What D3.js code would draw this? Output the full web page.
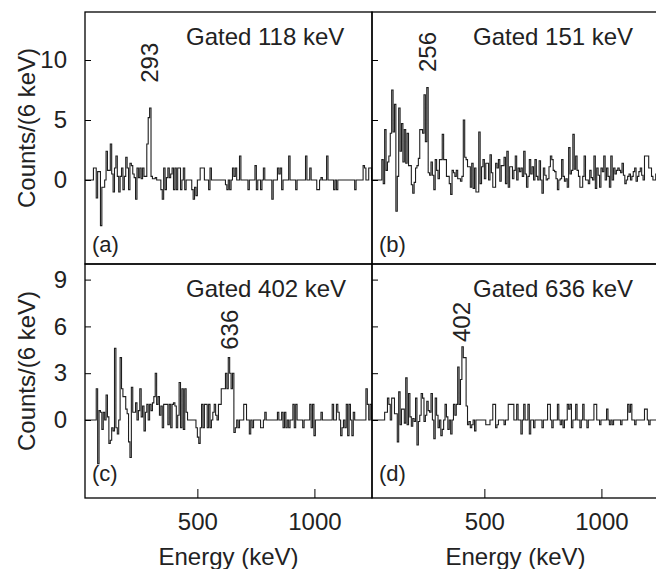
<!DOCTYPE html>
<html>
<head>
<meta charset="utf-8">
<script src="https://cdn.jsdelivr.net/npm/d3@7"></script>
<style>
  body { margin: 0; background: #fff; }
  svg { display: block; font-family: "Liberation Sans", Arial, Helvetica, sans-serif; }
</style>
</head>
<body>
<div id="chart"></div>
<script>
// gamma-gamma coincidence spectra, 6 keV bins starting at 20 keV
var binStart = 20;
var binWidth = 6;

var gated118 = [
    0, 0, 0, 0, 0, 0, 1, 1, -1.5, 0.7,
    0.7, -3.8, -0.6, -0.6, 0, 2.4, 0.8, 0.8, 3, 0.5,
    -1, 1, 2, 0.3, -1, 0.3, 1, -0.8, 0.3, 1.9,
    1, -0.8, 1.4, 1.2, 0.5, 0.2, -1.6, 1, 0.2, 1,
    0.1, 1, 0.3, 0.3, 3, 5.2, 6, 0.3, 0.1, 0.1,
    0.2, 0, 0, 0, -0.8, -1.6, 1, -0.8, 0.2, 1,
    0.2, 0.5, 1, -0.8, 1, -0.8, 1, 1, -0.8, 0,
    1, -0.8, 0, 0, 0, 0, -0.8, -1.6, -0.6, -1.3,
    0, 0, 1, 1, 1, 0, 0, 0, -0.8, 1,
    0, 0, 0, 0, 0, 0, 0, 0, 0, 0,
    -0.4, -0.8, 0, -0.8, 0, 1, 0.3, 1, 0, 0,
    2, 0, 0, 0, 0, 0, -0.8, 0, 0, 0,
    0, 1.2, -0.8, 0, 0, -0.8, 0, 1, 0, 0,
    0, 0, 0, -1.6, 0, 0, 0, 1, 0.5, 1,
    -0.8, 0, 0, 0, 0, 2, 0, 0, 0, 0,
    -0.8, 0, 0, 0, 0, 0, 0, 2, 0, 0,
    1, 0, 0, 0, 0, -0.8, -0.8, 0, 0.2, 0,
    0, 0, 2, 0, 0, 0, 0, -0.8, 0, -0.8,
    0, 0, 0, 0, 0, 0, 0, 0, 0, 0,
    0, 0, -0.8, 0, 0, 0, 0, 0, 1.2, 1,
    0, 0, 1, 1, 0
];

var gated151 = [
    0, 0, 0, 0, 0, 0, 0, 1.7, -0.3, 4.2,
    0.8, 1.5, 2, 3.9, 7.5, 4, 6.3, -2.6, 0.3, 6,
    2.4, 4.7, 1.5, 4.2, 1.4, 3.9, 1.2, 1.2, -0.4, -1.1,
    -0.2, 1, 1.2, 1.8, 4.2, 4.2, 3.9, 7.1, 3.2, 7.7,
    0.6, 0.4, 1.5, 0.4, -0.8, 1.7, 0.8, 0.1, 1.7, 1.7,
    3.8, 1.7, 1.7, 0.3, 0.3, -0.3, -1.2, 0.8, 0.6, 0.3,
    0.8, 0.1, 0.1, -0.1, 0.3, 5, 1.9, 1.7, 1.1, 1.1,
    -0.6, 1.4, -0.7, 1, -1, -1, 4, -0.3, 1.1, 1.7,
    0.1, 1.4, 1.4, 0, 2.1, 0.6, -0.6, -0.6, 1.4, 1,
    1.7, -0.1, 1.2, 1.2, 1.9, -0.3, 2.4, -0.6, 1.1, 1.1,
    0.1, 0.8, 2, 0, 1, 0.7, 1, 0.3, 2.4, 0.5,
    -0.6, 0.3, 1.7, 0.5, 1.1, 0, 1.7, 0.3, 0, 1.6,
    0, -1.1, 1, 0.4, 0, 0.1, 1.1, 2, 1.7, 0.8,
    0.7, 0.1, -0.8, 0, 0.1, 1.7, 0.3, -0.1, 0.1, -0.6,
    2.7, 0.5, 0.8, 3.8, 0.9, 2, 0.8, 0.3, -0.6, -0.6,
    0.3, 2, 0, 0, -0.3, 0.8, 0.2, 0, 2, -0.7,
    1, 0.4, -0.6, 1, 0.7, 2, 0, 1, 0.3, -0.6,
    2, 0, 1, 0.5, 0.8, 1, 0.8, 0.6, 1.4, 0.4,
    -0.3, 0, 0.3, 0.5, 0, 0.3, 0.7, 1, -0.1, 0.3,
    0.7, 1, 0.4, 0, 2, 2, 2, 1, 1, 0.3,
    0, 0, 0.5, 0, 0
];

var gated402 = [
    0, 0, 0, 0, 0, 0, 0, 0, 2, -2.8,
    0.6, 0.5, -0.6, 0.5, 0, 1.6, 0.2, -1.5, -1.3, -0.5,
    -0.7, 4.6, -0.5, -0.9, 0, 4, 2, 1.5, 1.5, 0.7,
    0.4, -1.4, -2.4, 2.1, 0.5, 0.5, 1.1, 0, 0.6, 2,
    0.2, 0.9, -0.7, 0.5, 1, 0, 1, 0.6, 1.1, 1.5,
    3, 1, 1.5, 0.3, 0.9, -0.5, 1, 1, 1, -0.3,
    1, -0.5, 1, 1.1, 0.9, -0.5, 0.3, 2.4, -0.5, 2,
    -0.6, 2, 0.5, 0, 0, 0, 0, 0, 0, -0.5,
    -1.1, -1.5, -0.5, 1, -0.5, 1, 1, -0.5, 1, -0.5,
    0, 0.5, 1, 0.3, 0, 1, 1, 2, 2, 2,
    3, 2, 4, 3, 2, 3, -0.8, -0.5, 0, -0.5,
    0, 0, 0, 1, 1, 0, 0, -0.9, 0, -0.5,
    0, 0, 0, 0, 0, -0.5, -0.5, 0, 0.5, 0,
    0, 0, 0, 0, 0, 0, 0, 0.5, 0, 0,
    0.5, -0.5, 0.5, -0.5, 0, -0.5, 0, 0, 1, -0.5,
    1, 0, 0, 0, 0, -0.5, 0, 0, 0, 0,
    1, -0.5, 1, -1, 0, 0, 0, 0, 0.5, 0,
    0, 0, 0, 0, 0, 0, 1, 0, 0, 1,
    0.5, 0, -1, -0.5, 0, -0.5, 1, -1, 1, 0,
    -1, 0.5, 0, 0, 0, 0, 0, 0, 0, 0,
    2, 1, 0, 1, 0
];

var gated636 = [
    0, 0, 0, 0, 0, 0, 0, 0, 0, 0.5,
    0.5, 1.4, 1, 0, 1.4, 1.4, 0.4, 0.4, -1.4, 1.8,
    -0.3, 0.7, 0.7, -0.2, 2.7, -0.3, 1.7, 0.2, -0.4, 0.1,
    -0.1, 1.4, -1.6, -0.1, 0.3, 1.7, 1.4, -0.1, 0.3, 1.2,
    0.6, 0.5, 1.7, 0, -1.2, 1.4, 0.3, -0.5, 0, -1,
    -0.6, 0, 1, 0.2, -0.6, 0, -0.9, 0, 1, 0.3,
    1, 3.4, 1, 2.6, 4.7, 4, 4, 0.9, -0.3, -0.1,
    -0.5, -0.3, 0, -0.7, 0, 0, 0, 0, 0, 0,
    0, -0.3, -0.3, -0.3, 0, 0, 1, 1, -0.5, -0.3,
    0, 0, 0, 0, -0.3, 0, 0, 1, 1, 1,
    1, 0, 0, 1, 0, 0, -0.9, 0, 1, 0,
    0, 1, -0.9, 0, 0, -0.5, 0, 0, 0, 0,
    0, -0.5, 0, 0, 0, 1, 1, 0, -0.5, 0,
    0, 0, 1, 0, -0.3, 0, -0.5, 0, 0, 1,
    0.7, 1, -0.5, 0, 0, 1, 0, 0, -0.5, 0,
    1, 0, 0, -0.5, 0, 0, 0, 0, 1, 1,
    0, 0, -0.3, 0, 0, 0, 0, 0.7, 0, -0.3,
    0, -0.3, 0, 0, 0, 0, 0, -0.3, 0, 0,
    0, 0, 1, 0.5, 1, 0, 0, -0.3, 0, 0,
    0, 0, 0, 0, 0.7, 0.7, 0, -0.3, 0, 0,
    0, 0, 0, 0, 0
];

var gateLabels = ["Gated 118 keV", "Gated 151 keV", "Gated 402 keV", "Gated 636 keV"];
var panelTags = ["(a)", "(b)", "(c)", "(d)"];
var peakEnergies = [293, 256, 636, 402];
var peakLabelCounts = [8.1, 9, 4.5, 5];

var energyDomain = [20, 1246];
var energyTicks = [500, 1000];
var topDomain = [-7, 14];
var topTicks = [0, 5, 10];
var bottomDomain = [-5, 10];
var bottomTicks = [0, 3, 6, 9];

var spectra = [gated118, gated151, gated402, gated636];

var width = 656;
var height = 569;
var left = 85;
var panelW = 287;
var rows = [
    {top: 12, h: 252, domain: topDomain, ticks: topTicks},
    {top: 264, h: 234, domain: bottomDomain, ticks: bottomTicks}
];
var fontSize = 24;
var ink = "#222";

var svg = d3.select("#chart")
    .append("svg")
    .attr("width", width)
    .attr("height", height);

var x = d3.scaleLinear()
    .domain(energyDomain)
    .range([0, panelW]);

var line = d3.line()
    .curve(d3.curveStepAfter);

function styleAxis(a) {
    a.select(".domain").remove();
    a.selectAll("line").attr("stroke", "#000");
    a.selectAll("text")
        .attr("fill", ink)
        .style("font-size", fontSize + "px")
        .style("font-family", "Liberation Sans, Arial, sans-serif");
}

spectra.forEach(function(counts, i) {
    var col = i % 2;
    var row = rows[Math.floor(i / 2)];
    var x0 = left + col * panelW;

    var y = d3.scaleLinear()
        .domain(row.domain)
        .range([row.h, 0]);

    var g = svg.append("g")
        .attr("transform", `translate(${x0},${row.top})`);

    g.append("clipPath")
        .attr("id", "clip" + i)
        .append("rect")
        .attr("width", panelW)
        .attr("height", row.h);

    // histogram as steps, closing the last bin
    var pts = counts.map((c, k) => [x(binStart + k * binWidth), y(c)]);
    pts.push([x(binStart + counts.length * binWidth), y(counts[counts.length - 1])]);

    g.append("path")
        .attr("clip-path", `url(#clip${i})`)
        .attr("d", line(pts))
        .attr("fill", "none")
        .attr("stroke", "#1e1e1e")
        .attr("stroke-width", 1.1);

    // y ticks point inward, only the left column gets numbers
    var ya = g.append("g").call(d3.axisLeft(y)
        .tickValues(row.ticks)
        .tickSize(-6)
        .tickPadding(18)
        .tickFormat(col === 0 ? d3.format("d") : ""));
    styleAxis(ya);

    if (i >= 2) {
        var xa = g.append("g")
            .attr("transform", `translate(0,${row.h})`)
            .call(d3.axisBottom(x)
                .tickValues(energyTicks)
                .tickSize(-9)
                .tickPadding(15)
                .tickFormat(d3.format("d")));
        styleAxis(xa);

        g.append("text")
            .attr("x", panelW / 2)
            .attr("y", row.h + 67)
            .attr("text-anchor", "middle")
            .attr("fill", ink)
            .style("font-size", fontSize + "px")
            .text("Energy (keV)");
    }

    // frame
    g.append("rect")
        .attr("width", panelW)
        .attr("height", row.h)
        .attr("fill", "none")
        .attr("stroke", "#000")
        .attr("stroke-width", 1.3);

    g.append("text")
        .attr("x", 101)
        .attr("y", 33)
        .attr("fill", ink)
        .style("font-size", fontSize + "px")
        .text(gateLabels[i]);

    g.append("text")
        .attr("x", 7)
        .attr("y", i < 2 ? row.h - 12 : row.h - 17)
        .attr("fill", ink)
        .style("font-size", (fontSize - 2) + "px")
        .text(panelTags[i]);

    g.append("text")
        .attr("transform", `translate(${x(peakEnergies[i])},${y(peakLabelCounts[i])}) rotate(-90)`)
        .attr("dy", "0.36em")
        .attr("fill", ink)
        .style("font-size", fontSize + "px")
        .text(peakEnergies[i]);

    if (col === 0) {
        svg.append("text")
            .attr("transform", `translate(35,${row.top + row.h / 2 - 10}) rotate(-90)`)
            .attr("text-anchor", "middle")
            .attr("fill", ink)
            .style("font-size", fontSize + "px")
            .text("Counts/(6 keV)");
    }
});
</script>
</body>
</html>
